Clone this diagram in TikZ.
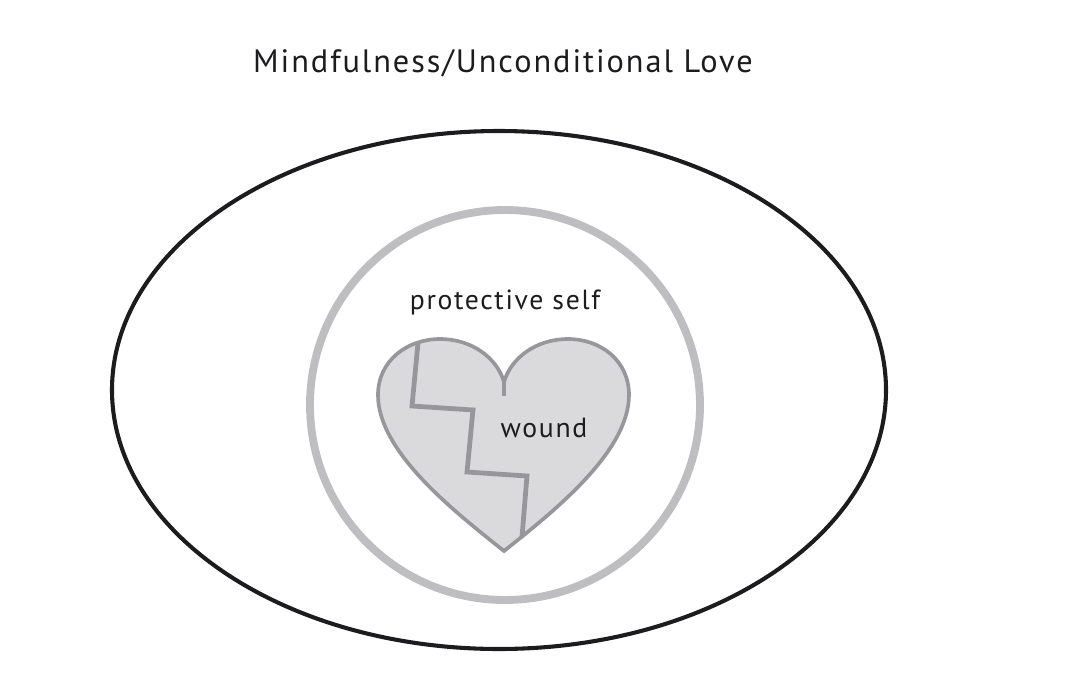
\documentclass[tikz,border=0pt]{standalone}
\usepackage{fontspec}
\setmainfont[LetterSpace=6]{PT Sans}
\definecolor{ringgray}{RGB}{190,190,192}
\definecolor{heartgray}{RGB}{218,218,221}
\definecolor{crackgray}{RGB}{150,150,155}
\definecolor{inkblack}{RGB}{28,28,30}
\begin{document}
\begin{tikzpicture}[x=0.025cm,y=-0.025cm,
		every node/.style={text=inkblack,inner sep=0pt},
		titlestyle/.style={font=\fontsize{23}{27}\selectfont},
		labelstyle/.style={font=\fontsize{19.7}{24}\selectfont},
		outerring/.style={draw=inkblack,line width=2.9pt},
		innerring/.style={draw=ringgray,line width=5.6pt},
		heartline/.style={draw=crackgray,line width=2.6pt,line join=miter},
		crackline/.style={draw=crackgray,line width=3.4pt,line join=miter}]
		\useasboundingbox (0,0) rectangle (1068,699);
		
		\node[titlestyle](title) at (503,63) {Mindfulness/Unconditional Love};
		
		\draw[outerring] (499,390) ellipse [x radius=387,y radius=259];
		\draw[innerring] (505,405) circle [radius=195];
		
		\coordinate (tip) at (504,551);
		\coordinate (notch) at (504,382);
		\coordinate (stem) at (504,396);
		\draw[heartline,fill=heartgray] (tip)
			.. controls (455,512) and (378,452) .. (378,395)
			.. controls (378,360) and (408,339) .. (440,339)
			.. controls (472,339) and (497,358) .. (notch)
			.. controls (511,358) and (536,339) .. (568,339)
			.. controls (600,339) and (629,360) .. (629,395)
			.. controls (629,452) and (553,512) .. cycle;
		\draw[heartline] (notch) -- (stem);
		
		\coordinate (c1) at (418,343);
		\coordinate (c2) at (412,406);
		\coordinate (c3) at (473,410);
		\coordinate (c4) at (467,472);
		\coordinate (c5) at (527,476);
		\coordinate (c6) at (522,537);
		\draw[crackline] (c1) -- (c2) -- (c3) -- (c4) -- (c5) -- (c6);
		
		\node[labelstyle](protect) at (505,302) {protective self};
		\node[labelstyle](wound) at (544,428) {wound};
\end{tikzpicture}
\end{document}
